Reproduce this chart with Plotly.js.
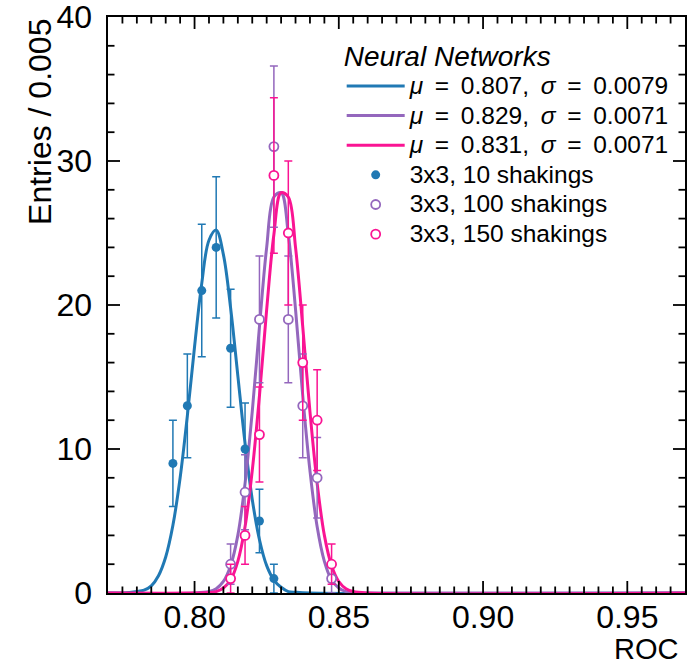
<!DOCTYPE html>
<html>
<head>
<meta charset="utf-8">
<script src="https://cdn.plot.ly/plotly-3.0.1.min.js"></script>
<style>html,body{margin:0;padding:0;background:#fff;}</style>
</head>
<body>
<div id="chart" style="width:687px;height:668px;"></div>
<script>
// ---- data ----
const binsBlue = [0.7925, 0.7975, 0.8025, 0.8075, 0.8125, 0.8175, 0.8225, 0.8275];
const countsBlue = [9, 13, 21, 24, 17, 10, 5, 1];
const errBlue = [3, 3.6, 4.6, 4.9, 4.1, 3.2, 2.2, 1];

const binsRight = [0.8125, 0.8175, 0.8225, 0.8275, 0.8325, 0.8375, 0.8425, 0.8475];
const countsPurple = [2, 7, 19, 31, 19, 13, 8, 1];
const errPurple = [1.4, 2.6, 4.4, 5.6, 4.4, 3.6, 2.8, 1];
const countsPink = [1, 4, 11, 29, 25, 16, 12, 2];
const errPink = [1, 2, 3.3, 5.4, 5, 4, 3.5, 1.4];

const fitXBlue = [0.77, 0.775, 0.78, 0.7825, 0.785, 0.7875, 0.79, 0.7925, 0.795, 0.7975, 0.80, 0.8025, 0.805, 0.8075, 0.81, 0.8125, 0.815, 0.8175, 0.82, 0.8225, 0.825, 0.8275, 0.83, 0.8325, 0.835, 0.84, 0.97];
const fitYBlue = [0, 0, 0.1, 0.2, 0.5, 1.2, 2.5, 4.7, 8.0, 12.3, 17.1, 21.5, 24.5, 25.2, 23.5, 19.8, 15.1, 10.4, 6.5, 3.7, 1.9, 0.9, 0.4, 0.1, 0.05, 0, 0];

const fitXRight = [0.77, 0.80, 0.805, 0.8075, 0.81, 0.8125, 0.815, 0.8175, 0.82, 0.8225, 0.825, 0.8275, 0.83, 0.8325, 0.835, 0.8375, 0.84, 0.8425, 0.845, 0.8475, 0.85, 0.8525, 0.855, 0.86, 0.97];
const fitYPurple = [0, 0, 0.1, 0.3, 0.8, 1.9, 4.0, 7.6, 12.6, 18.5, 24.0, 27.5, 27.8, 24.9, 19.7, 13.7, 8.5, 4.6, 2.2, 0.9, 0.35, 0.1, 0.03, 0, 0];
const fitYPink = [0, 0, 0.03, 0.1, 0.35, 0.9, 2.2, 4.6, 8.5, 13.7, 19.7, 24.9, 27.8, 27.5, 24.0, 18.5, 12.6, 7.6, 4.0, 1.9, 0.8, 0.3, 0.1, 0, 0];

const fitMu = ['0.807', '0.829', '0.831'];
const fitSigma = ['0.0079', '0.0071', '0.0071'];
const pointLabels = ['3x3, 10 shakings', '3x3, 100 shakings', '3x3, 150 shakings'];
const xRange = [0.77, 0.97];
const yRange = [0, 40];
const xMajorStep = 0.05, xMinorStep = 0.005;
const yMajorStep = 10, yMinorStep = 2;

const BLUE = '#2079b4', PURPLE = '#9467bd', PINK = '#fa1493';
const FONT = 'Liberation Sans, Arial, Helvetica, sans-serif';
const TS = '\u2009';

function big(s) { return '<span style="font-size:24.5px">' + s + '</span>'; }
function fitLabel(i) {
  return '<i>μ</i>' + TS + ' = ' + TS + fitMu[i] + ', ' + TS + '<i>σ</i>' + TS + ' = ' + TS + fitSigma[i];
}

function fitTrace(x, y, color, name) {
  return {x: x, y: y, type: 'scatter', mode: 'lines', name: big(name),
    line: {color: color, width: 3, shape: 'spline', smoothing: 1}, hoverinfo: 'skip'};
}
function pointTrace(x, y, e, color, filled, name) {
  return {x: x, y: y, type: 'scatter', mode: 'markers', name: big(name),
    marker: {symbol: 'circle', size: 9, color: filled ? color : '#ffffff',
      line: {color: color, width: filled ? 0 : 1.8}},
    error_y: {type: 'data', array: e, visible: true, color: color, thickness: 1.5, width: 4}};
}

const traces = [
  fitTrace(fitXBlue, fitYBlue, BLUE, fitLabel(0)),
  fitTrace(fitXRight, fitYPurple, PURPLE, fitLabel(1)),
  fitTrace(fitXRight, fitYPink, PINK, fitLabel(2)),
  pointTrace(binsBlue, countsBlue, errBlue, BLUE, true, pointLabels[0]),
  pointTrace(binsRight, countsPurple, errPurple, PURPLE, false, pointLabels[1]),
  pointTrace(binsRight, countsPink, errPink, PINK, false, pointLabels[2])
];

// inward tick marks on all four sides (major + minor), placed in axis units
const tickShapes = [];
const MAJ = 12, MIN = 6.5;
const tickLine = {color: '#000', width: 1.8};
const nx = Math.round((xRange[1] - xRange[0]) / xMinorStep);
for (let i = 1; i < nx; i++) {
  const v = xRange[0] + i * xMinorStep;
  const r = (v - 0.8) / xMajorStep;
  const len = Math.abs(r - Math.round(r)) < 1e-6 ? MAJ : MIN;
  tickShapes.push({type: 'line', xref: 'x', yref: 'paper', ysizemode: 'pixel', yanchor: 0,
    x0: v, x1: v, y0: 0, y1: len, line: tickLine, layer: 'above'});
  tickShapes.push({type: 'line', xref: 'x', yref: 'paper', ysizemode: 'pixel', yanchor: 1,
    x0: v, x1: v, y0: 0, y1: -len, line: tickLine, layer: 'above'});
}
const ny = Math.round((yRange[1] - yRange[0]) / yMinorStep);
for (let i = 1; i < ny; i++) {
  const v = yRange[0] + i * yMinorStep;
  const len = (Math.round(v) % yMajorStep === 0) ? MAJ : MIN;
  tickShapes.push({type: 'line', yref: 'y', xref: 'paper', xsizemode: 'pixel', xanchor: 0,
    y0: v, y1: v, x0: 0, x1: len, line: tickLine, layer: 'above'});
  tickShapes.push({type: 'line', yref: 'y', xref: 'paper', xsizemode: 'pixel', xanchor: 1,
    y0: v, y1: v, x0: 0, x1: -len, line: tickLine, layer: 'above'});
}

const axisCommon = {
  showgrid: false, zeroline: false, showline: true, linecolor: '#000', linewidth: 1.6,
  mirror: true, ticks: '',
  tickfont: {family: FONT, size: 32, color: '#000'},
  ticklabeloverflow: 'allow'
};

const layout = {
  width: 687, height: 668,
  margin: {l: 108, r: 2, t: 17, b: 75},
  paper_bgcolor: '#fff', plot_bgcolor: 'rgba(0,0,0,0)',
  font: {family: FONT, color: '#000'},
  showlegend: true,
  xaxis: Object.assign({}, axisCommon, {
    range: xRange, tickmode: 'linear', tick0: 0.8, dtick: xMajorStep, tickformat: '.2f',
    ticklabelstandoff: -5
  }),
  yaxis: Object.assign({}, axisCommon, {
    range: yRange, tickmode: 'linear', tick0: 0, dtick: yMajorStep, ticklabelstandoff: 8
  }),
  shapes: tickShapes,
  legend: {
    x: 0.405, y: 0.978, xanchor: 'left', yanchor: 'top',
    bgcolor: 'rgba(0,0,0,0)', borderwidth: 0,
    font: {family: FONT, size: 20.5, color: '#000'},
    itemwidth: 58, tracegroupgap: 0,
    title: {text: 'Neural Networks', font: {family: FONT, size: 28, style: 'italic', color: '#000'}}
  },
  annotations: [
    {text: 'Entries / 0.005', xref: 'paper', yref: 'paper', x: -0.118, y: 1,
     xanchor: 'center', yanchor: 'top', textangle: -90, showarrow: false,
     font: {family: FONT, size: 32, color: '#000'}},
    {text: 'ROC', xref: 'paper', yref: 'paper', x: 0.992, y: -0.1285,
     xanchor: 'right', yanchor: 'bottom', showarrow: false,
     font: {family: FONT, size: 29, color: '#000'}}
  ]
};

Plotly.newPlot('chart', traces, layout, {displayModeBar: false, staticPlot: true});
</script>
</body>
</html>
